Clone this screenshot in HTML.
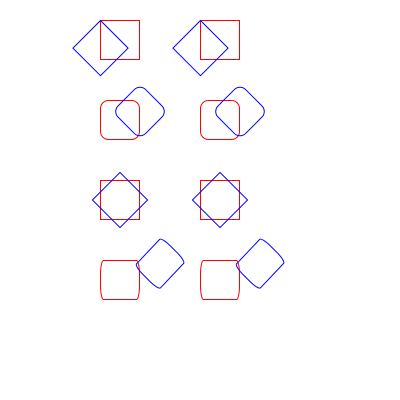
<!DOCTYPE html>
<html><head><meta charset="utf-8"><style>html,body{margin:0;padding:0;background:#fff}svg{display:block}</style></head>
<body>
<svg width="400" height="400" viewBox="0 0 400 400">
<g fill="none" stroke-width="1">
 <g>
  <rect x="100.5" y="20.5" width="39" height="39" stroke="red"/>
  <rect x="0" y="0" width="39" height="39" stroke="blue" transform="translate(100.5,20.5) rotate(45)"/>
  <rect x="100.5" y="100.5" width="39" height="39" rx="8" stroke="red"/>
  <rect x="-19.5" y="-19.5" width="39" height="39" rx="8" stroke="blue" transform="translate(140,111.5) rotate(45)"/>
  <rect x="100.5" y="180.5" width="39" height="39" stroke="red"/>
  <rect x="-19.5" y="-19.5" width="39" height="39" stroke="blue" transform="translate(120,200) rotate(45)"/>
  <rect x="100.5" y="260.5" width="39" height="39" rx="3" ry="14" stroke="red"/>
  <rect x="0" y="0" width="40" height="40" rx="3" ry="14" stroke="blue" vector-effect="non-scaling-stroke" transform="matrix(0.68,-0.72,0.6,0.6,134.5,266)"/>
 </g>
 <g transform="translate(100,0)">
  <rect x="100.5" y="20.5" width="39" height="39" stroke="red"/>
  <rect x="0" y="0" width="39" height="39" stroke="blue" transform="translate(100.5,20.5) rotate(45)"/>
  <rect x="100.5" y="100.5" width="39" height="39" rx="8" stroke="red"/>
  <rect x="-19.5" y="-19.5" width="39" height="39" rx="8" stroke="blue" transform="translate(140,111.5) rotate(45)"/>
  <rect x="100.5" y="180.5" width="39" height="39" stroke="red"/>
  <rect x="-19.5" y="-19.5" width="39" height="39" stroke="blue" transform="translate(120,200) rotate(45)"/>
  <rect x="100.5" y="260.5" width="39" height="39" rx="3" ry="14" stroke="red"/>
  <rect x="0" y="0" width="40" height="40" rx="3" ry="14" stroke="blue" vector-effect="non-scaling-stroke" transform="matrix(0.68,-0.72,0.6,0.6,134.5,266)"/>
 </g>
</g>
</svg>
</body></html>
